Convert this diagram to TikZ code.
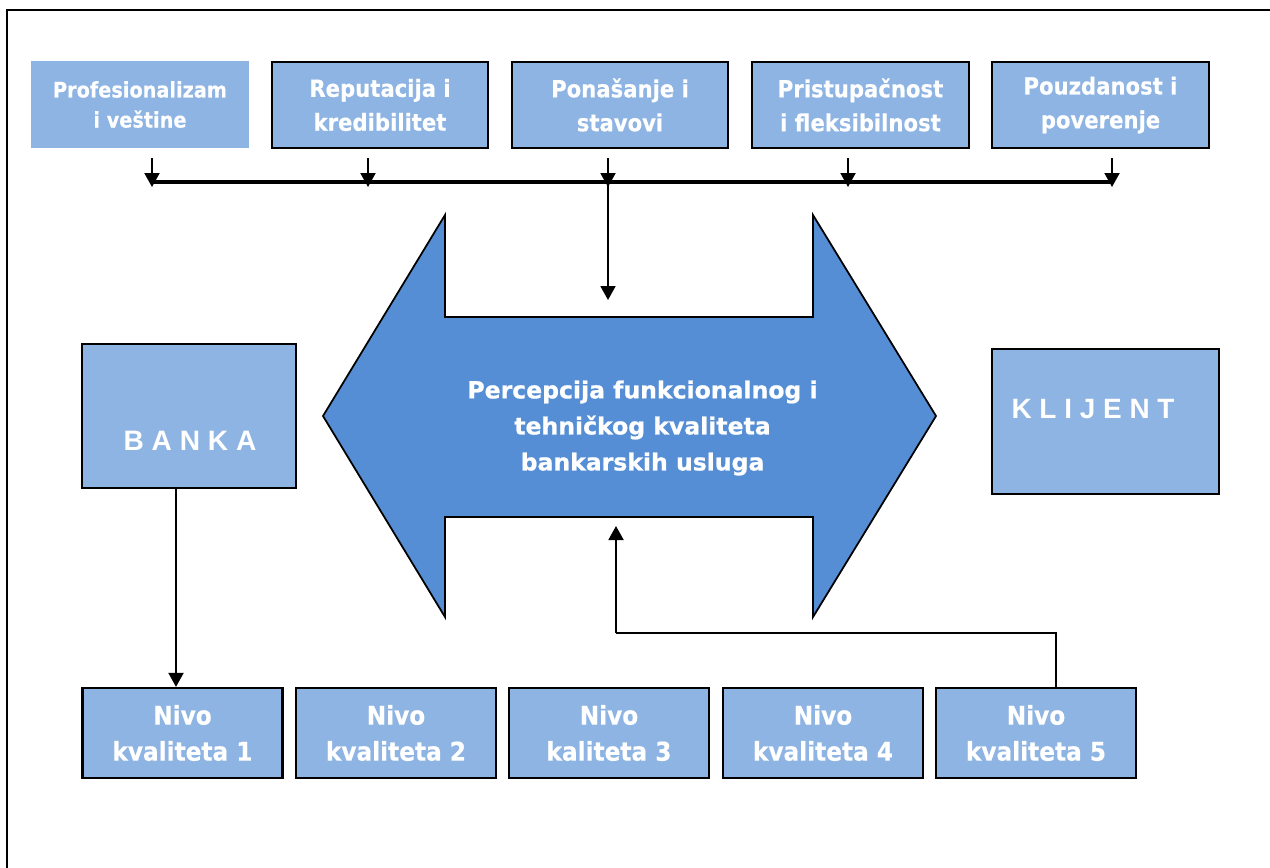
\documentclass[tikz,border=0pt]{standalone}
\usepackage{fontspec}
\setmainfont{DejaVu Sans}
\newfontfamily\condbold{DejaVu Sans Condensed Bold}[FakeBold=0.4]
\newfontfamily\widebold{DejaVu Sans Bold}[FakeBold=0.8]
\newfontfamily\arialbold{Liberation Sans Bold}
\usetikzlibrary{arrows.meta}

\definecolor{boxblue}{HTML}{8EB4E3}
\definecolor{arrowblue}{HTML}{558ED5}

\begin{document}
\begin{tikzpicture}[x=0.02cm,y=-0.02cm,
  frame/.style={line width=1.2pt},
  factor/.style={fill=boxblue, draw=black, line width=1.3pt, minimum width=4.33cm,
    minimum height=1.72cm, inner sep=0pt, align=center, text=white,
    font={\condbold\fontsize{13.4pt}{19.3pt}\selectfont}},
  level/.style={fill=boxblue, draw=black, line width=1.3pt, minimum width=4.0cm,
    minimum height=1.8cm, inner sep=0pt, align=center, text=white,
    font={\condbold\fontsize{14.7pt}{20.5pt}\selectfont}},
  party/.style={fill=boxblue, draw=black, line width=1.3pt, inner sep=0pt},
  partytext/.style={text=white, inner sep=0pt, font={\arialbold\fontsize{16pt}{19pt}\selectfont}},
  bigarrow/.style={fill=arrowblue, draw=black, line width=1pt, line join=miter},
  arr/.style={-{Triangle[width=0.3cm,length=0.28cm]}, line width=1.1pt},
  link/.style={line width=1.1pt},
  bar/.style={line width=2.3pt}
]
\useasboundingbox (0,0) rectangle (1270,867);

% outer frame (right and bottom edges lie outside the page)
\draw[frame] (7,900) -- (7,10) -- (1300,10);

% quality factors
\node[factor, draw=none, minimum width=4.36cm, minimum height=1.74cm,
      font={\condbold\fontsize{12.2pt}{17.1pt}\selectfont}]
      (t1) at (140,104.5) {Profesionalizam\\i veštine};
\node[factor] (t2) at (380,105) {Reputacija i\\kredibilitet};
\node[factor] (t3) at (620,105) {Ponašanje i\\stavovi};
\node[factor] (t4) at (860.5,105) {Pristupačnost\\i fleksibilnost};
\node[factor] (t5) at (1100.5,105) {Pouzdanost i\\poverenje};

% collecting bar
\coordinate (s1) at (152,158);  \coordinate (e1) at (152,187);
\coordinate (s2) at (368,158);  \coordinate (e2) at (368,187);
\coordinate (s3) at (608,158);  \coordinate (e3) at (608,187);
\coordinate (s4) at (848,158);  \coordinate (e4) at (848,187);
\coordinate (s5) at (1112,158); \coordinate (e5) at (1112,187);
\coordinate (barL) at (152,182);
\coordinate (barR) at (1112,182);
\coordinate (barM) at (608,182);
\coordinate (percTop) at (608,300);
\draw[bar] (barL) -- (barR);
\foreach \i in {1,...,5} \draw[arr] (s\i) -- (e\i);
\draw[arr] (barM) -- (percTop);

% double-headed perception arrow
\draw[bigarrow] (323,416) -- (445,215) -- (445,317) -- (813,317) -- (813,215)
  -- (936,416) -- (813,617) -- (813,517) -- (445,517) -- (445,617) -- cycle;
\node[align=center, text=white, inner sep=0pt,
      font={\widebold\fontsize{13.4pt}{20.5pt}\selectfont}]
      (perc) at (642.5,428) {Percepcija funkcionalnog i\\tehničkog kvaliteta\\bankarskih usluga};

% bank and client
\node[party, minimum width=4.28cm, minimum height=2.88cm] (banka) at (189,416) {};
\node[partytext] (bankalbl) at (190,441) {B A N K A};
\node[party, minimum width=4.54cm, minimum height=2.9cm] (klijent) at (1105.5,421.5) {};
\node[partytext, font={\arialbold\fontsize{15.9pt}{19pt}\selectfont}] (klijentlbl) at (1093,409) {K L I J E N T};

% quality levels
\node[level] (n1) at (182.5,733) {Nivo\\kvaliteta 1};
\node[level] (n2) at (396,733) {Nivo\\kvaliteta 2};
\node[level] (n3) at (609,733) {Nivo\\kaliteta 3};
\node[level] (n4) at (823,733) {Nivo\\kvaliteta 4};
\node[level] (n5) at (1036,733) {Nivo\\kvaliteta 5};

% bank to first level
\coordinate (bx) at (176,0);
\draw[arr] (banka.south -| bx) -- (n1.north -| bx);

% fifth level back to perception
\coordinate (fx) at (1056,633);
\coordinate (ux) at (616,633);
\coordinate (percBot) at (616,526);
\draw[link] (n5.north -| fx) -- (fx) -- (ux);
\draw[arr] (ux) -- (percBot);
\end{tikzpicture}
\end{document}
